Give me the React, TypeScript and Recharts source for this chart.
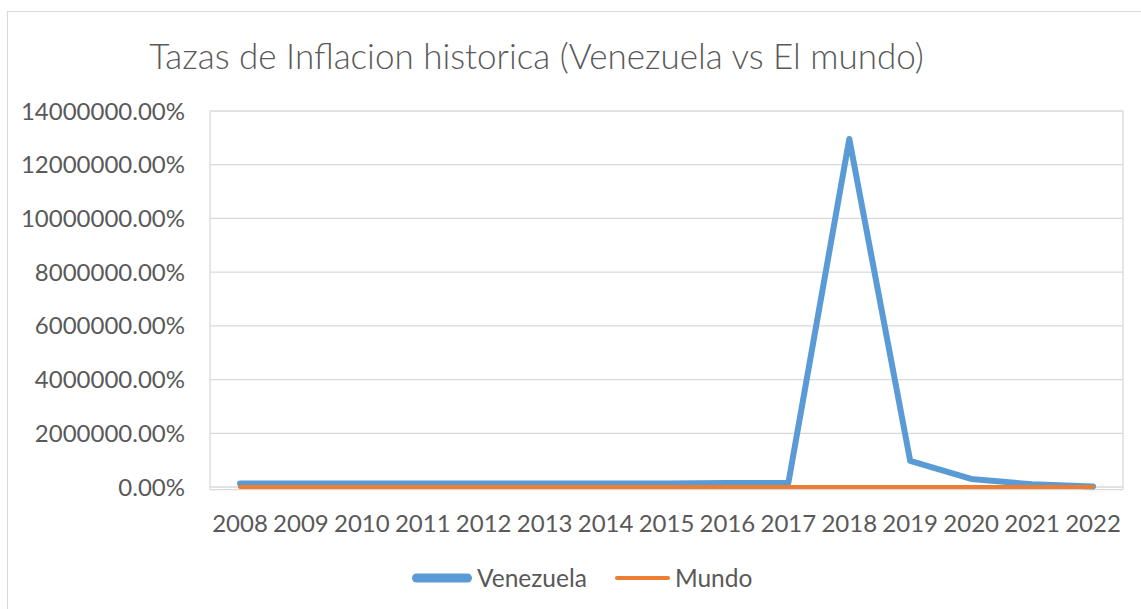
import React from "react";
import {
  LineChart,
  Line,
  XAxis,
  YAxis,
  CartesianGrid,
  Legend,
} from "recharts";

const years = [
  "2008", "2009", "2010", "2011", "2012", "2013", "2014", "2015",
  "2016", "2017", "2018", "2019", "2020", "2021", "2022",
];

// values as shown on the axis (percent)
const venezuela = [
  130000, 130000, 130000, 130000, 130000, 130000, 130000, 135000,
  150000, 150000, 12960000, 970000, 300000, 100000, 20000,
];

const mundo = [
  8.95, 2.86, 3.33, 4.81, 3.73, 2.62, 2.35, 1.43,
  1.55, 2.19, 2.44, 2.19, 1.92, 3.48, 8.27,
];

const yTicks = [0, 2000000, 4000000, 6000000, 8000000, 10000000, 12000000, 14000000];
// a little room below zero so the thick lines on the baseline are not cut
const yDomain = [-100000, 14000000];

const series = [
  { key: "Venezuela", color: "#5B9BD5", width: 6, legendWidth: 9, legendLen: 60 },
  { key: "Mundo", color: "#ED7D31", width: 4, legendWidth: 4, legendLen: 55 },
];

const data = years.map((y, i) => ({
  year: y,
  Venezuela: venezuela[i],
  Mundo: mundo[i],
}));

const FONT = "Lato, 'Open Sans', sans-serif";
const TEXT = "#595959";
const GRID = "#D9D9D9";

const tickStyle = { fill: TEXT, fontSize: 24, fontFamily: FONT };

const LegendContent = () => (
  <div style={{ display: "flex", alignItems: "center", height: 30 }}>
    {series.map((s, i) => (
      <div
        key={s.key}
        style={{ display: "flex", alignItems: "center", marginRight: i === 0 ? 28 : 0 }}
      >
        <svg width={s.legendLen} height={12}>
          <line
            x1={s.legendWidth / 2}
            y1={6}
            x2={s.legendLen - s.legendWidth / 2}
            y2={6}
            stroke={s.color}
            strokeWidth={s.legendWidth}
            strokeLinecap="round"
          />
        </svg>
        <span
          style={{
            color: TEXT,
            fontFamily: FONT,
            fontSize: 24.5,
            marginLeft: 5,
            lineHeight: "30px",
          }}
        >
          {s.key}
        </span>
      </div>
    ))}
  </div>
);

const App: React.FC = () => {
  return (
    <div
      style={{
        position: "fixed",
        left: 0,
        top: 0,
        width: 1141,
        height: 609,
        overflow: "hidden",
        background: "#fff",
      }}
    >
      <div
        style={{
          position: "absolute",
          left: 7,
          top: 11,
          width: 1300,
          height: 800,
          border: `1px solid ${GRID}`,
        }}
      />
      <div
        style={{
          position: "absolute",
          left: 0,
          top: 34,
          width: 1073,
          textAlign: "center",
          fontFamily: FONT,
          fontWeight: 300,
          fontSize: 35,
          lineHeight: "42px",
          color: TEXT,
        }}
      >
        Tazas de Inflacion historica (Venezuela vs El mundo)
      </div>
      <div style={{ position: "absolute", left: 0, top: 0 }}>
        <LineChart
          width={1141}
          height={609}
          data={data}
          margin={{ top: 111, right: 17, bottom: 39.3, left: 20 }}
        >
          <CartesianGrid vertical={false} stroke={GRID} strokeWidth={1.3} />
          <XAxis
            dataKey="year"
            height={50}
            padding={{ left: 30, right: 30 }}
            tickLine={false}
            tickSize={0}
            tickMargin={25}
            axisLine={false}
            tick={tickStyle}
            interval={0}
          />
          <YAxis
            width={190}
            domain={yDomain}
            ticks={yTicks}
            tickFormatter={(v: number) => `${v.toFixed(2)}%`}
            tickLine={false}
            tickSize={0}
            tickMargin={25}
            axisLine={{ stroke: GRID, strokeWidth: 1.3 }}
            tick={tickStyle}
            interval={0}
          />
          <YAxis
            yAxisId="r"
            orientation="right"
            width={1}
            domain={yDomain}
            tick={false}
            tickLine={false}
            axisLine={{ stroke: GRID, strokeWidth: 1.3 }}
          />
          <Legend
            verticalAlign="bottom"
            content={<LegendContent />}
            wrapperStyle={{ left: 412, bottom: 16, width: "auto" }}
          />
          {series.map((s) => (
            <Line
              key={s.key}
              type="linear"
              dataKey={s.key}
              stroke={s.color}
              strokeWidth={s.width}
              strokeLinecap="round"
              strokeLinejoin="round"
              dot={false}
              activeDot={false}
              isAnimationActive={false}
            />
          ))}
        </LineChart>
      </div>
    </div>
  );
};

export default App;
